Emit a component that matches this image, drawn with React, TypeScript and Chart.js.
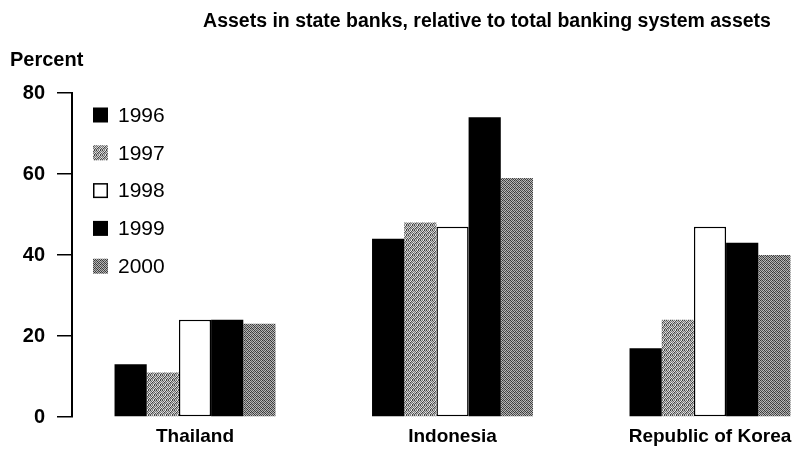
import React, { useEffect, useRef } from 'react';
import { Chart, registerables } from 'chart.js';

Chart.register(...registerables);

// ---- data ----
const categories = ['Thailand', 'Indonesia', 'Republic of Korea'];
const years = ['1996', '1997', '1998', '1999', '2000'];
const v1996 = [13, 44, 17];
const v1997 = [11, 48, 24];
const v1998 = [24, 47, 47];
const v1999 = [24, 74, 43];
const v2000 = [23, 59, 40];
const yTicks = [0, 20, 40, 60, 80];
const titleText = 'Assets in state banks, relative to total banking system assets';
const yUnitText = 'Percent';

const BOLD = '"Liberation Sans", Arial, sans-serif';
const REG = '"Liberation Sans", Arial, sans-serif';

function makePattern(rows: number[][]): CanvasPattern | string {
  const c = document.createElement('canvas');
  c.width = rows[0].length;
  c.height = rows.length;
  const ctx = c.getContext('2d');
  if (!ctx) return '#999';
  rows.forEach((r, y) =>
    r.forEach((v, x) => {
      ctx.fillStyle = `rgb(${v},${v},${v})`;
      ctx.fillRect(x, y, 1, 1);
    })
  );
  return ctx.createPattern(c, 'repeat') || '#999';
}

export default function App() {
  const ref = useRef<HTMLCanvasElement | null>(null);

  useEffect(() => {
    document.body.style.margin = '0';
    const canvas = ref.current;
    if (!canvas) return;

    const p1997 = makePattern([
      [70, 200, 120, 220, 60, 190],
      [190, 100, 230, 80, 200, 130],
      [130, 220, 60, 180, 110, 230],
      [210, 70, 170, 120, 220, 80],
      [90, 190, 130, 230, 70, 170],
    ]);
    const p2000 = makePattern([
      [60, 180, 90, 190, 50, 160],
      [170, 50, 190, 80, 180, 100],
      [90, 190, 60, 180, 80, 170],
      [190, 80, 160, 60, 190, 60],
    ]);

    const series = [v1996, v1997, v1998, v1999, v2000];
    const fills: (string | CanvasPattern)[] = ['#000000', p1997, '#ffffff', '#000000', p2000];
    const borders = [0, 0, 1.5, 0, 0];

    const datasets = years.map((yr, k) => ({
      label: yr,
      data: categories.map((_, i) => ({ x: i, y: series[k][i] })),
      backgroundColor: fills[k],
      borderColor: '#000000',
      borderWidth: borders[k],
      borderSkipped: false as const,
    }));

    const overlay = {
      id: 'overlayTexts',
      afterDraw(chart: any) {
        const ctx = chart.ctx as CanvasRenderingContext2D;
        ctx.save();
        ctx.fillStyle = '#000';
        ctx.textBaseline = 'alphabetic';
        ctx.font = `bold 19.5px ${BOLD}`;
        ctx.textAlign = 'center';
        ctx.fillText(titleText, 487, 27);
        ctx.font = `bold 20px ${BOLD}`;
        ctx.textAlign = 'left';
        ctx.fillText(yUnitText, 10, 66);

        // legend
        const ds = chart.data.datasets;
        ctx.font = `21px ${REG}`;
        ctx.textBaseline = 'middle';
        ds.forEach((d: any, i: number) => {
          const cy = 115 + i * 37.8;
          const bx = 93;
          const bs = 15;
          ctx.fillStyle = d.backgroundColor;
          ctx.fillRect(bx, cy - bs / 2, bs, bs);
          if (d.borderWidth > 0) {
            ctx.strokeStyle = '#000';
            ctx.lineWidth = 1.5;
            ctx.strokeRect(bx + 0.75, cy - bs / 2 + 0.75, bs - 1.5, bs - 1.5);
          }
          ctx.fillStyle = '#000';
          ctx.fillText(d.label, 118, cy + 1);
        });
        ctx.restore();
      },
    };

    const chart = new Chart(canvas, {
      type: 'bar',
      data: { datasets: datasets as any },
      plugins: [overlay],
      options: {
        responsive: false,
        animation: false,
        layout: { padding: { top: 93, bottom: 0, left: 0, right: 0 } },
        plugins: {
          legend: { display: false },
          title: { display: false },
          tooltip: { enabled: false },
        },
        datasets: {
          bar: { categoryPercentage: 0.625, barPercentage: 1 },
        },
        scales: {
          x: {
            type: 'linear',
            offset: false,
            min: -0.4777,
            max: 2.334,
            grid: { display: false, drawTicks: false },
            border: { display: false },
            afterBuildTicks: (s: any) => {
              s.ticks = categories.map((_, i) => ({ value: i }));
            },
            afterFit: (s: any) => {
              s.paddingLeft = 0;
              s.paddingRight = 0;
              s.height = 32;
            },
            ticks: {
              callback: (v: any) => categories[v as number] ?? '',
              font: { family: BOLD, weight: 'bold', size: 19 },
              color: '#000',
              padding: 8,
              maxRotation: 0,
              autoSkip: false,
            },
          },
          y: {
            min: 0,
            max: 80,
            afterBuildTicks: (s: any) => {
              s.ticks = yTicks.map((v) => ({ value: v }));
            },
            afterFit: (s: any) => {
              s.width = 72;
            },
            grid: {
              drawOnChartArea: false,
              drawTicks: true,
              tickLength: 15,
              color: '#000',
              lineWidth: 1.5,
            },
            border: { display: true, color: '#000', width: 2 },
            ticks: {
              font: { family: BOLD, weight: 'bold', size: 20 },
              color: '#000',
              padding: 12,
            },
          },
        },
      },
    });
    return () => chart.destroy();
  }, []);

  return (
    <div style={{ width: 796, height: 449 }}>
      <canvas ref={ref} width={796} height={449} style={{ display: 'block' }} />
    </div>
  );
}
